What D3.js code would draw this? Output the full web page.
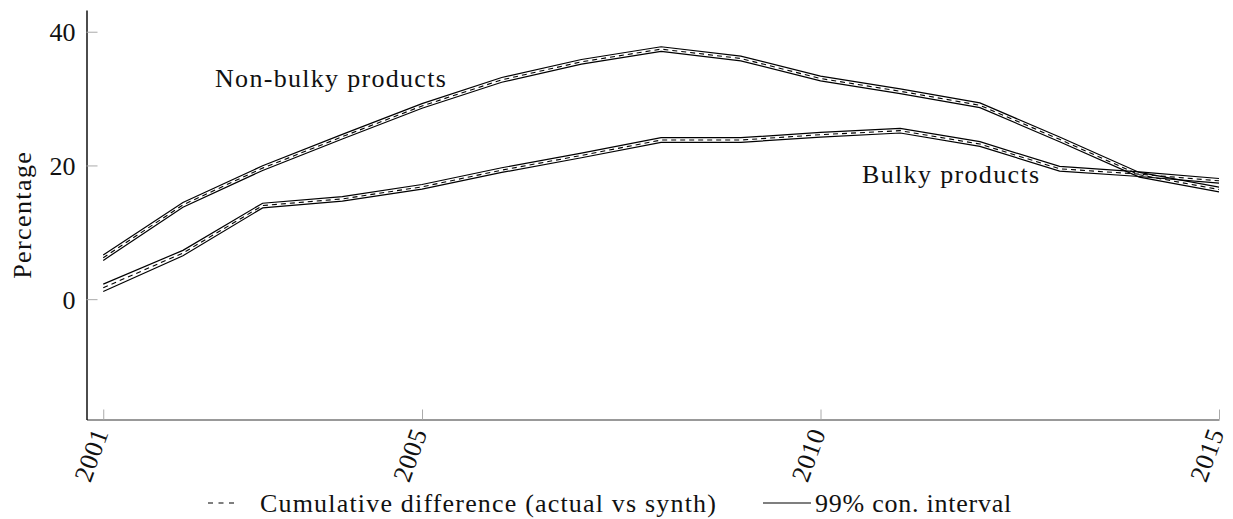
<!DOCTYPE html>
<html>
<head>
<meta charset="utf-8">
<script src="https://cdn.jsdelivr.net/npm/d3@7"></script>
<style>
  html, body { margin: 0; padding: 0; background: #fff; }
  svg text { fill: #111; }
</style>
</head>
<body>
<svg id="chart" width="1233" height="519"></svg>
<script>
// Years on the horizontal axis
const years = [2001, 2002, 2003, 2004, 2005, 2006, 2007, 2008, 2009, 2010, 2011, 2012, 2013, 2014, 2015];

// Cumulative difference (actual vs synthetic), percent
const nonBulky = [6.2, 14.1, 19.6, 24.3, 28.9, 32.8, 35.5, 37.4, 36.0, 33.0, 31.1, 29.0, 23.9, 18.6, 16.4];
const bulky    = [1.7, 6.9, 14.0, 15.0, 16.8, 19.3, 21.5, 23.8, 23.8, 24.6, 25.2, 23.2, 19.5, 18.7, 17.7];

// 99% confidence interval bounds
const nonBulkyLow  = [5.8, 13.75, 19.25, 23.95, 28.55, 32.45, 35.15, 37.05, 35.65, 32.65, 30.75, 28.65, 23.55, 18.25, 16.05];
const nonBulkyHigh = [6.6, 14.45, 19.95, 24.65, 29.25, 33.15, 35.85, 37.75, 36.35, 33.35, 31.45, 29.35, 24.25, 18.95, 16.75];
const bulkyLow     = [1.15, 6.5, 13.65, 14.65, 16.45, 18.95, 21.15, 23.45, 23.45, 24.25, 24.85, 22.85, 19.15, 18.35, 17.35];
const bulkyHigh    = [2.25, 7.3, 14.35, 15.35, 17.15, 19.65, 21.85, 24.15, 24.15, 24.95, 25.55, 23.55, 19.85, 19.05, 18.05];

const yTicks = [0, 20, 40];
const xTicks = [2001, 2005, 2010, 2015];
const seriesLabels = ["Non-bulky products", "Bulky products"];
const legendLabels = ["Cumulative difference (actual vs synth)", "99% con. interval"];

const svg = d3.select("#chart")
  .style("font-family", "'Liberation Serif', 'DejaVu Serif', 'Noto Serif', Times, serif");
const FONT = 26;

const x = d3.scaleLinear().domain([2000.79, 2015]).range([86.5, 1219]);
const y = d3.scaleLinear().domain([-18, 43.25]).range([419.5, 10]);

// x axis with rotated year labels
const xAxis = svg.append("g")
  .attr("transform", `translate(0,${y(-18)})`)
  .call(d3.axisBottom(x).tickValues(xTicks).tickFormat(d3.format("d"))
        .tickSizeInner(-10).tickSizeOuter(0).tickPadding(0));
xAxis.attr("font-family", null);
xAxis.select(".domain").attr("stroke", "#777").attr("stroke-width", 1.6);
xAxis.selectAll(".tick line").attr("stroke", "#aaa").attr("stroke-width", 1);
xAxis.selectAll(".tick text")
  .attr("font-size", FONT)
  .attr("letter-spacing", 0.6)
  .attr("text-anchor", "end")
  .attr("x", 0).attr("y", 0).attr("dy", "0.33em")
  .attr("transform", "translate(-3,10) rotate(-70)");

// y axis, ticks pointing into the plot
const yAxis = svg.append("g")
  .attr("transform", `translate(${x(2000.79)},0)`)
  .call(d3.axisLeft(y).tickValues(yTicks).tickFormat(d3.format("d"))
        .tickSizeInner(-11).tickSizeOuter(0).tickPadding(11));
yAxis.attr("font-family", null);
yAxis.select(".domain").attr("stroke", "#000").attr("stroke-width", 1.4);
yAxis.selectAll(".tick line").attr("stroke", "#aaa").attr("stroke-width", 1);
yAxis.selectAll(".tick text")
  .attr("font-size", FONT)
  .attr("dy", "0.34em");

// y axis title
svg.append("text")
  .attr("transform", `translate(31,${(y(-18) + y(43.25)) / 2}) rotate(-90)`)
  .attr("text-anchor", "middle")
  .attr("font-size", FONT)
  .attr("letter-spacing", 1.4)
  .text("Percentage");

// confidence bounds (solid) and point estimate (dashed)
const line = d3.line().x((d, i) => x(years[i])).y(d => y(d));
const plot = svg.append("g").attr("fill", "none").attr("stroke", "#000");

[nonBulkyLow, nonBulkyHigh, bulkyLow, bulkyHigh].forEach(arr => {
  plot.append("path").datum(arr).attr("d", line).attr("stroke-width", 1.2);
});
[nonBulky, bulky].forEach(arr => {
  plot.append("path").datum(arr).attr("d", line)
    .attr("stroke-width", 1.1).attr("stroke-dasharray", "5,4");
});

// series labels
svg.append("text").attr("x", 215).attr("y", 87).attr("font-size", FONT)
  .attr("letter-spacing", 1.3).text(seriesLabels[0]);
svg.append("text").attr("x", 862).attr("y", 183).attr("font-size", FONT)
  .attr("letter-spacing", 1.35).text(seriesLabels[1]);

// legend
const lg = svg.append("g");
lg.append("line").attr("x1", 208).attr("x2", 235).attr("y1", 503).attr("y2", 503)
  .attr("stroke", "#000").attr("stroke-width", 1.2).attr("stroke-dasharray", "5,5.5");
lg.append("text").attr("x", 260).attr("y", 512).attr("font-size", FONT)
  .attr("letter-spacing", 1.18).text(legendLabels[0]);
lg.append("line").attr("x1", 763).attr("x2", 811).attr("y1", 503).attr("y2", 503)
  .attr("stroke", "#000").attr("stroke-width", 1.2);
lg.append("text").attr("x", 815).attr("y", 512).attr("font-size", FONT)
  .attr("letter-spacing", 0.76).text(legendLabels[1]);
</script>
</body>
</html>
